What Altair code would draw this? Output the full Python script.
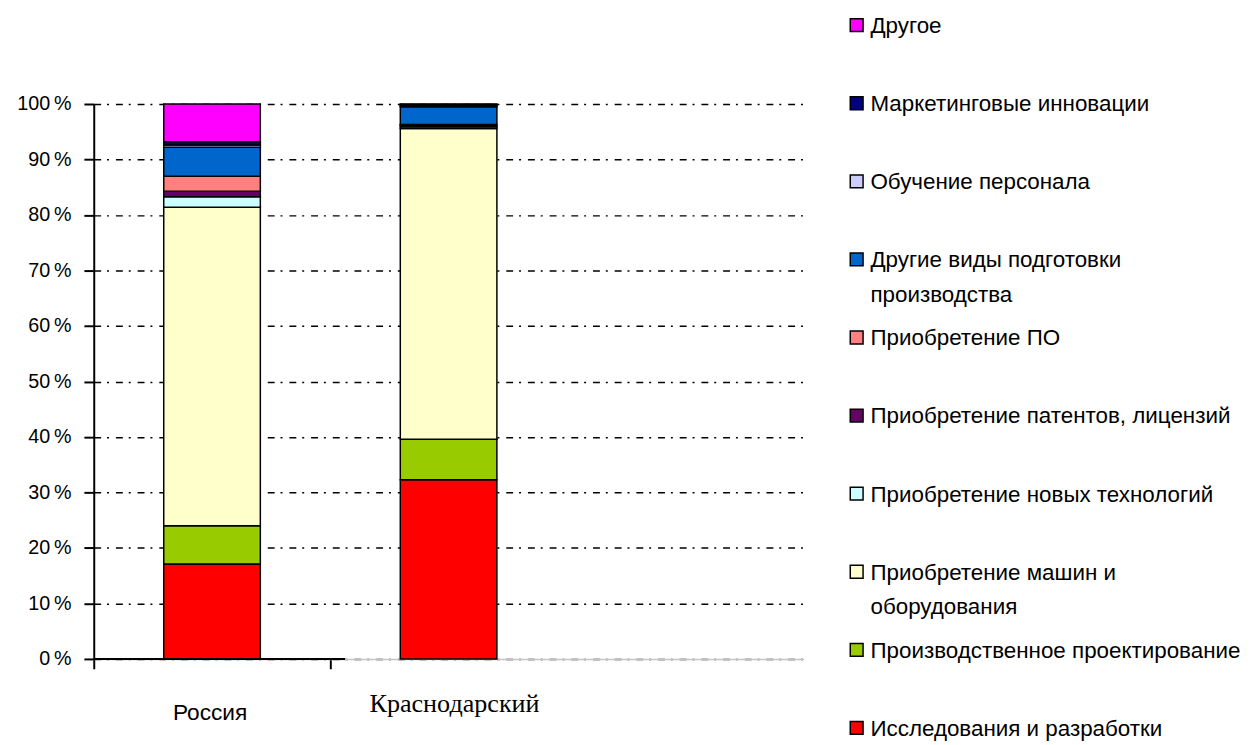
import altair as alt
import pandas as pd

# --- data ---
regions = ["Россия", "Краснодарский"]
series = [
    "Исследования и разработки",
    "Производственное проектирование",
    "Приобретение машин и оборудования",
    "Приобретение новых технологий",
    "Приобретение патентов, лицензий",
    "Приобретение  ПО",
    "Другие виды подготовки производства",
    "Обучение персонала",
    "Маркетинговые инновации",
    "Другое",
]
legend_labels = [
    "Исследования и разработки",
    "Производственное проектирование",
    "Приобретение машин и\nоборудования",
    "Приобретение новых технологий",
    "Приобретение патентов, лицензий",
    "Приобретение  ПО",
    "Другие виды подготовки\nпроизводства",
    "Обучение персонала",
    "Маркетинговые инновации",
    "Другое",
]
russia = [17.1, 6.9, 57.4, 1.9, 1.0, 2.7, 5.2, 0.4, 0.6, 6.8]
krasnodar = [32.3, 7.3, 56.0, 0.3, 0.3, 0.1, 3.2, 0.2, 0.2, 0.1]
colors = ["#FF0000", "#99CC00", "#FFFFCC", "#CCFFFF", "#660066",
          "#FF8080", "#0066CC", "#CCCCFF", "#000080", "#FF00FF"]
y_ticks = [0, 0.1, 0.2, 0.3, 0.4, 0.5, 0.6, 0.7, 0.8, 0.9, 1.0]

W, H = 720, 563

rows = []
for region, vals in zip(regions, [russia, krasnodar]):
    for i, (s, v) in enumerate(zip(series, vals)):
        rows.append({"region": region, "series": s, "value": v, "ord": i})
df = pd.DataFrame(rows)

leg_df = pd.DataFrame({"series": series, "label": legend_labels})
cat_df = pd.DataFrame({"region": regions})

x_scale = alt.Scale(domain=regions + [" "], paddingInner=0, paddingOuter=0)
color_scale = alt.Scale(domain=series, range=colors)

bars = alt.Chart(df).mark_bar(size=98, stroke="black", strokeWidth=1.5).encode(
    x=alt.X("region:N", scale=x_scale, sort=None,
            axis=alt.Axis(values=regions, bandPosition=0, labels=False, title=None,
                          domainColor="#c4c4c4", domainWidth=1.5,
                          tickColor="black", tickSize=10, tickWidth=2, grid=False)),
    y=alt.Y("value:Q", stack="normalize",
            scale=alt.Scale(domain=[0, 1], nice=False),
            axis=alt.Axis(values=y_ticks, title=None,
                          labelExpr="format(datum.value * 100, 'd') + '\u2009%'",
                          labelFontSize=20, labelColor="black", labelPadding=13,
                          labelFont="Liberation Sans",
                          tickSize=10, tickWidth=2, tickColor="black",
                          domainColor="black", domainWidth=2,
                          grid=True, gridColor="black", gridWidth=1.5,
                          gridDash=[7, 6, 2, 7])),
    color=alt.Color("series:N", scale=color_scale, legend=None),
    order=alt.Order("ord:Q", sort="ascending"),
)

axis_seg = alt.Chart(pd.DataFrame({"a": [0]})).mark_rule(color="black", strokeWidth=2).encode(
    x=alt.value(0), x2=alt.value(255), y=alt.value(H)
)

lab_ru = alt.Chart(cat_df).transform_filter(alt.datum.region == regions[0]).mark_text(
    font="Liberation Sans", fontSize=23, baseline="alphabetic", color="black", dx=-2
).encode(
    x=alt.X("region:N", scale=x_scale, sort=None),
    y=alt.value(H + 62),
    text="region:N",
)
lab_kr = alt.Chart(cat_df).transform_filter(alt.datum.region == regions[1]).mark_text(
    font="Liberation Serif", fontSize=26.5, baseline="alphabetic", color="black", dx=6
).encode(
    x=alt.X("region:N", scale=x_scale, sort=None),
    y=alt.value(H + 54),
    text="region:N",
)

leg_y = alt.Y("series:N", sort=series[::-1],
              scale=alt.Scale(domain=series[::-1], range=[-80, 633], padding=0),
              axis=None)
leg_sym = alt.Chart(leg_df).mark_point(shape="square", filled=True, size=169,
                                       stroke="black", strokeWidth=1.5, opacity=1).encode(
    x=alt.value(774),
    y=leg_y,
    color=alt.Color("series:N", scale=color_scale, legend=None),
)
leg_txt = alt.Chart(leg_df).mark_text(
    align="left", baseline="alphabetic", dy=8, fontSize=22.7, font="Liberation Sans",
    color="black", lineBreak="\n", lineHeight=35
).encode(
    x=alt.value(788),
    y=leg_y,
    text="label:N",
)

chart = alt.layer(bars, axis_seg, lab_ru, lab_kr, leg_sym, leg_txt).resolve_scale(
    y="independent"
).properties(
    width=W, height=H,
    padding={"left": 8, "top": 2, "right": 5, "bottom": 5},
).configure(
    background="white", font="Liberation Sans"
).configure_view(stroke=None)

chart.save("out.html", embed_options={"renderer": "svg", "actions": False})
